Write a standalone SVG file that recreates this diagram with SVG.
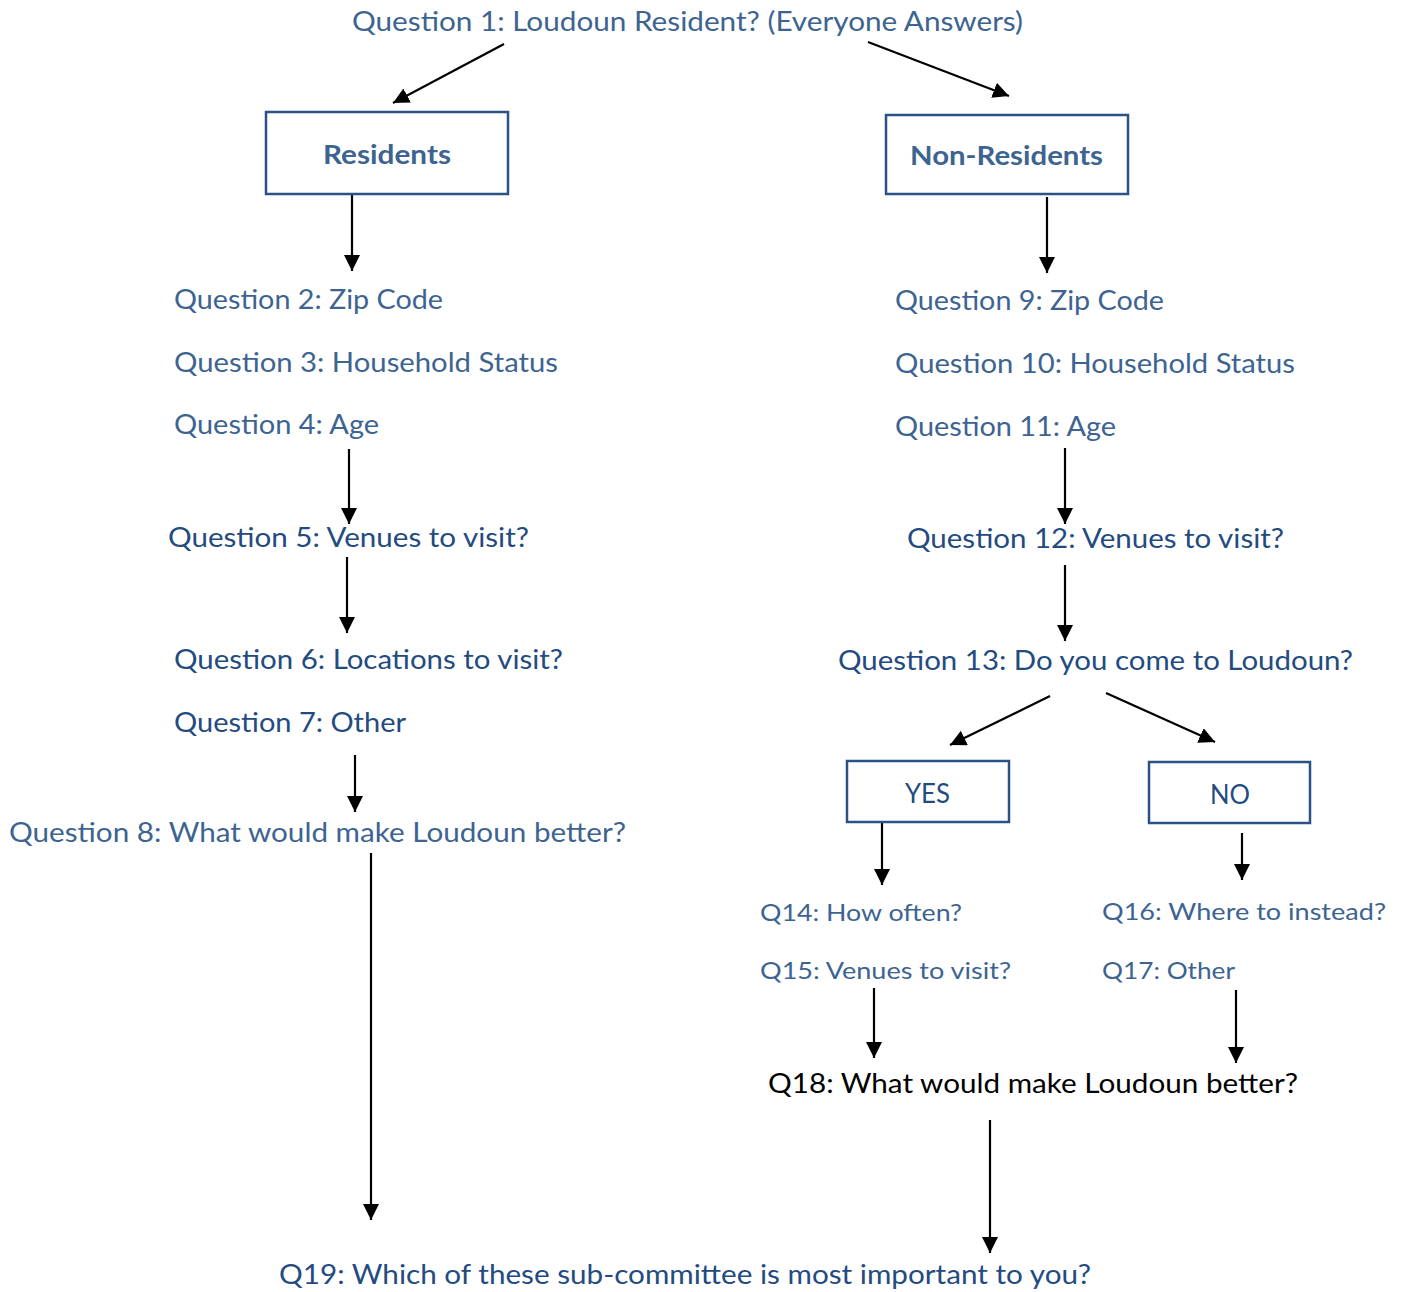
<svg xmlns="http://www.w3.org/2000/svg" width="1404" height="1292" viewBox="0 0 1404 1292">
<style>
text{font-family:Lato,"Open Sans","Liberation Sans",sans-serif;font-size:26px}
.l{fill:#3d6491}
.d{fill:#234b7f}
.k{fill:#000}
.s{font-size:24px}
.b{font-weight:bold}
.box{fill:#fff;stroke:#2a5286;stroke-width:2.5}
.c line{stroke:#000;stroke-width:2.2;marker-end:url(#ah)}
</style>
<defs>
<marker id="ah" markerUnits="userSpaceOnUse" markerWidth="18" markerHeight="18" refX="16" refY="8" orient="auto">
<path d="M0,0 L16,8 L0,16 Z" fill="#000"/>
</marker>
</defs>
<rect width="1404" height="1292" fill="#fff"/>
<g class="c" id="connectors">
<line x1="504" y1="44" x2="393" y2="103"/>
<line x1="868" y1="42" x2="1009" y2="96"/>
<line x1="352" y1="195" x2="352" y2="271"/>
<line x1="1047" y1="197" x2="1047" y2="273"/>
<line x1="349" y1="449" x2="349" y2="524"/>
<line x1="347" y1="557" x2="347" y2="633"/>
<line x1="355" y1="755" x2="355" y2="812"/>
<line x1="371" y1="853" x2="371" y2="1220"/>
<line x1="1065" y1="448" x2="1065" y2="524"/>
<line x1="1065" y1="565" x2="1065" y2="641"/>
<line x1="1050" y1="696" x2="950" y2="745"/>
<line x1="1106" y1="693" x2="1215" y2="742"/>
<line x1="882" y1="823" x2="882" y2="885"/>
<line x1="1242" y1="833" x2="1242" y2="880"/>
<line x1="874" y1="988" x2="874" y2="1058"/>
<line x1="1236" y1="990" x2="1236" y2="1063"/>
<line x1="990" y1="1120" x2="990" y2="1253"/>
</g>
<g id="q1"><text class="l" x="352" y="31" textLength="671" lengthAdjust="spacingAndGlyphs">Question 1: Loudoun Resident? (Everyone Answers)</text></g>
<g id="residents"><rect class="box" x="266" y="112" width="242" height="82"/><text class="l b" x="323" y="164" textLength="128" lengthAdjust="spacingAndGlyphs">Residents</text></g>
<g id="nonresidents"><rect class="box" x="886" y="115" width="242" height="79"/><text class="l b" x="910" y="165" textLength="193" lengthAdjust="spacingAndGlyphs">Non-Residents</text></g>
<g id="q2"><text class="l" x="174" y="309" textLength="269" lengthAdjust="spacingAndGlyphs">Question 2: Zip Code</text></g>
<g id="q3"><text class="l" x="174" y="372" textLength="384" lengthAdjust="spacingAndGlyphs">Question 3: Household Status</text></g>
<g id="q4"><text class="l" x="174" y="434" textLength="205" lengthAdjust="spacingAndGlyphs">Question 4: Age</text></g>
<g id="q5"><text class="d" x="168" y="547" textLength="361" lengthAdjust="spacingAndGlyphs">Question 5: Venues to visit?</text></g>
<g id="q6"><text class="d" x="174" y="669" textLength="389" lengthAdjust="spacingAndGlyphs">Question 6: Locations to visit?</text></g>
<g id="q7"><text class="d" x="174" y="732" textLength="232" lengthAdjust="spacingAndGlyphs">Question 7: Other</text></g>
<g id="q8"><text class="l" x="9" y="842" textLength="617" lengthAdjust="spacingAndGlyphs">Question 8: What would make Loudoun better?</text></g>
<g id="q9"><text class="l" x="895" y="310" textLength="269" lengthAdjust="spacingAndGlyphs">Question 9: Zip Code</text></g>
<g id="q10"><text class="l" x="895" y="373" textLength="400" lengthAdjust="spacingAndGlyphs">Question 10: Household Status</text></g>
<g id="q11"><text class="l" x="895" y="436" textLength="221" lengthAdjust="spacingAndGlyphs">Question 11: Age</text></g>
<g id="q12"><text class="d" x="907" y="548" textLength="377" lengthAdjust="spacingAndGlyphs">Question 12: Venues to visit?</text></g>
<g id="q13"><text class="d" x="838" y="670" textLength="515" lengthAdjust="spacingAndGlyphs">Question 13: Do you come to Loudoun?</text></g>
<g id="yes"><rect class="box" x="847" y="761" width="162" height="61"/><text class="d" x="905" y="803" textLength="45" lengthAdjust="spacingAndGlyphs">YES</text></g>
<g id="no"><rect class="box" x="1149" y="762" width="161" height="61"/><text class="d" x="1210" y="804" textLength="40" lengthAdjust="spacingAndGlyphs">NO</text></g>
<g id="q14"><text class="l s" x="760" y="921" textLength="202" lengthAdjust="spacingAndGlyphs">Q14: How often?</text></g>
<g id="q15"><text class="l s" x="760" y="979" textLength="251" lengthAdjust="spacingAndGlyphs">Q15: Venues to visit?</text></g>
<g id="q16"><text class="l s" x="1102" y="920" textLength="284" lengthAdjust="spacingAndGlyphs">Q16: Where to instead?</text></g>
<g id="q17"><text class="l s" x="1102" y="979" textLength="133" lengthAdjust="spacingAndGlyphs">Q17: Other</text></g>
<g id="q18"><text class="k" x="768" y="1093" textLength="530" lengthAdjust="spacingAndGlyphs">Q18: What would make Loudoun better?</text></g>
<g id="q19"><text class="d" x="279" y="1284" textLength="812" lengthAdjust="spacingAndGlyphs">Q19: Which of these sub-committee is most important to you?</text></g>
</svg>
